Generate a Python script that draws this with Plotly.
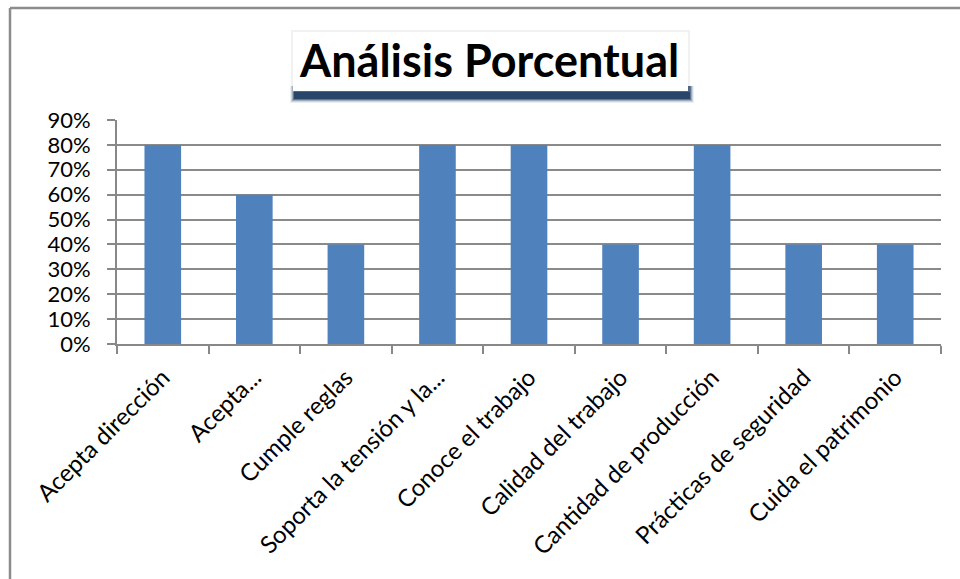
import plotly.graph_objects as go

categories = ["Acepta dirección", "Acepta...", "Cumple reglas", "Soporta la tensión y la...",
              "Conoce el trabajo", "Calidad del trabajo", "Cantidad de producción",
              "Prácticas de seguridad", "Cuida el patrimonio"]
values = [0.8, 0.6, 0.4, 0.8, 0.8, 0.4, 0.8, 0.4, 0.4]
y_ticks = [0, 0.1, 0.2, 0.3, 0.4, 0.5, 0.6, 0.7, 0.8, 0.9]
y_labels = ["0%", "10%", "20%", "30%", "40%", "50%", "60%", "70%", "80%", "90%"]
title_text = "Análisis Porcentual"

W, H = 960, 579
L, R, T, B = 117, 941, 120, 344  # plot area in pixels
pw, ph = R - L, B - T

def px(x):
    return (x - L) / pw

def py(y):
    return (B - y) / ph

FONT = "Lato"
fig = go.Figure(go.Bar(x=categories, y=values, marker_color="#4F81BD",
                       marker_line_width=0))

shapes = []
# chart border (left and top)
shapes.append(dict(type="line", xref="paper", yref="paper", x0=px(10), x1=px(962),
                   y0=py(8), y1=py(8), line=dict(color="#8c8c8c", width=2.5)))
shapes.append(dict(type="line", xref="paper", yref="paper", x0=px(10), x1=px(10),
                   y0=py(8), y1=py(582), line=dict(color="#8c8c8c", width=2.5)))
# title shadow (blurred dark blue, mostly below the box)
for i, op in enumerate([0.08, 0.15, 0.25, 0.45, 0.75]):
    d = 5 - i
    shapes.append(dict(type="rect", xref="paper", yref="paper",
                       x0=px(295 - d), x1=px(689 + d), y0=py(86), y1=py(98 + d),
                       fillcolor=f"rgba(23,54,93,{op})", line_width=0, layer="above"))
# faint outer glow around box
shapes.append(dict(type="rect", xref="paper", yref="paper",
                   x0=px(291), x1=px(690), y0=py(30), y1=py(92),
                   fillcolor="rgba(200,200,200,0.25)", line_width=0, layer="above"))
# title box
shapes.append(dict(type="rect", xref="paper", yref="paper",
                   x0=px(293), x1=px(688), y0=py(32), y1=py(91),
                   fillcolor="white", line_width=0, layer="above"))

fig.update_layout(
    width=W, height=H,
    margin=dict(l=L, r=W - R, t=T, b=H - B, pad=0),
    paper_bgcolor="white", plot_bgcolor="white",
    bargap=0.6, showlegend=False,
    font=dict(family=FONT, size=22, color="black"),
    shapes=shapes,
    annotations=[dict(text="<b>" + title_text + "</b>", xref="paper", yref="paper",
                      x=px(489), y=py(60), xanchor="center", yanchor="middle",
                      showarrow=False, font=dict(family=FONT, size=45, color="black"))],
    xaxis=dict(type="category", showgrid=False, showline=True, linecolor="#888888",
               linewidth=2, ticks="outside", tickson="boundaries", ticklen=8,
               tickcolor="#888888", tickwidth=2, tickangle=-45, ticklabelstandoff=8,
               tickfont=dict(family=FONT, size=24, color="black")),
    yaxis=dict(range=[0, 0.9], tickvals=y_ticks, ticktext=y_labels,
               showgrid=True, gridcolor="#8a8a8a", gridwidth=2, zeroline=False,
               showline=True, linecolor="#888888", linewidth=2, ticks="outside",
               ticklen=8, tickcolor="#888888", tickwidth=2, ticklabelstandoff=12,
               tickfont=dict(family=FONT, size=22, color="black")),
)

fig.write_html("out.html")
